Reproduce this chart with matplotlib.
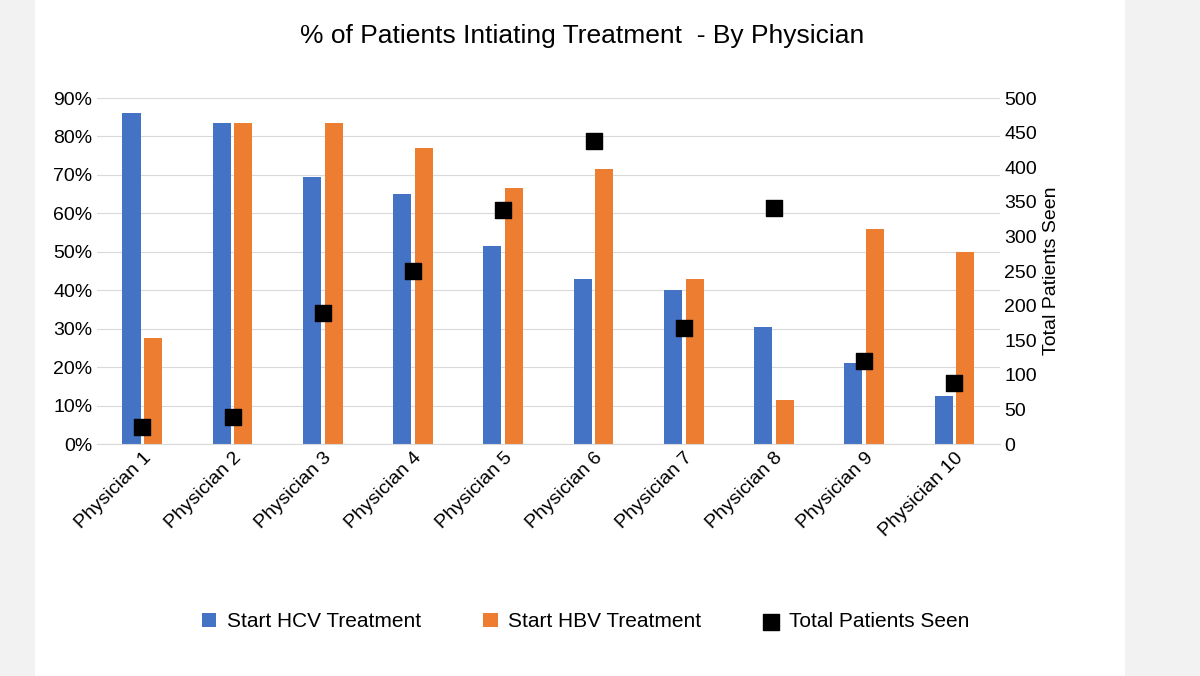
import matplotlib.pyplot as plt
import numpy as np
from matplotlib.ticker import PercentFormatter

physicians = ['Physician %d' % i for i in range(1, 11)]
hcv = [86, 83.5, 69.5, 65, 51.5, 43, 40, 30.5, 21, 12.5]
hbv = [27.5, 83.5, 83.5, 77, 66.5, 71.5, 43, 11.5, 56, 50]
total_seen = [25, 39, 189, 250, 338, 438, 168, 341, 120, 88]

plt.rcParams['font.family'] = ['Liberation Sans', 'DejaVu Sans']

fig = plt.figure(figsize=(12, 6.76), dpi=100)
fig.patch.set_facecolor('#f2f2f2')
bg = fig.add_axes([35 / 1200, 0, 1090 / 1200, 1], zorder=-10)
bg.set_facecolor('white')
bg.axis('off')
bg.add_patch(plt.Rectangle((0, 0), 1, 1, transform=bg.transAxes, color='white'))

ax = fig.add_axes([0.081, 0.343, 0.752, 0.512])
ax.set_facecolor('none')
x = np.arange(len(physicians))
w = 0.2
ax.bar(x - w / 2 - 0.02, hcv, w, color='#4472c4', label='Start HCV Treatment', zorder=2)
ax.bar(x + w / 2 + 0.02, hbv, w, color='#ed7d31', label='Start HBV Treatment', zorder=2)
ax.set_ylim(0, 90)
ax.set_yticks(range(0, 91, 10))
ax.yaxis.set_major_formatter(PercentFormatter(decimals=0))
ax.set_xlim(-0.5, len(physicians) - 0.5)
ax.set_xticks(x)
ax.set_xticklabels(physicians, rotation=45, ha='right', rotation_mode='anchor', fontsize=14)
ax.tick_params(axis='y', labelsize=14, length=0)
ax.tick_params(axis='x', length=0)
ax.grid(axis='y', color='#d9d9d9', zorder=0)
for s in ['top', 'right', 'left']:
    ax.spines[s].set_visible(False)
ax.spines['bottom'].set_color('#d9d9d9')

ax2 = ax.twinx()
ax2.scatter(x, total_seen, marker='s', s=120, color='black', label='Total Patients Seen', zorder=3)
ax2.set_ylim(0, 500)
ax2.set_yticks(range(0, 501, 50))
ax2.tick_params(axis='y', labelsize=14, length=0)
ax2.set_ylabel('Total Patients Seen', fontsize=14)
for s in ['top', 'right', 'left', 'bottom']:
    ax2.spines[s].set_visible(False)

fig.suptitle('% of Patients Intiating Treatment  - By Physician', fontsize=19, y=0.965, x=0.485)

h1, l1 = ax.get_legend_handles_labels()
h2, l2 = ax2.get_legend_handles_labels()
fig.legend(h1 + h2, l1 + l2, loc='center', bbox_to_anchor=(0.488, 0.08), ncol=3,
           frameon=False, fontsize=15, handlelength=0.7, handleheight=0.7,
           handletextpad=0.5, columnspacing=3.0)

fig.savefig('out.png', dpi=100)
